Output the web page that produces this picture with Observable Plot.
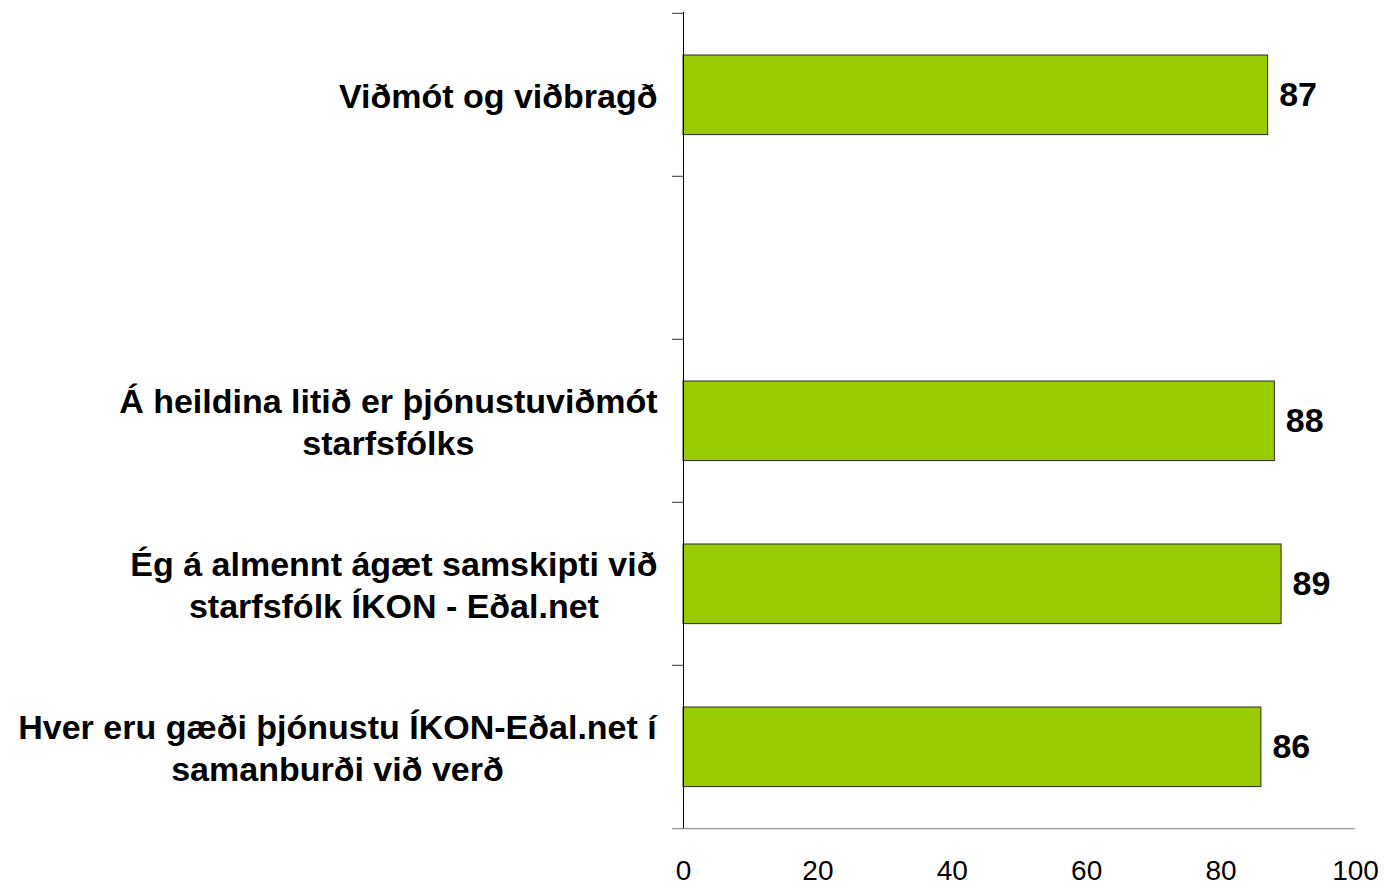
<!DOCTYPE html>
<html><head><meta charset="utf-8">
<script src="https://cdn.jsdelivr.net/npm/d3@7"></script>
<script src="https://cdn.jsdelivr.net/npm/@observablehq/plot@0.6"></script>
<style>body{margin:0;background:#fff} svg{display:block}</style>
</head><body>
<script>
const categories = [
  "Viðmót og viðbragð",
  " ",
  "Á heildina litið er þjónustuviðmót\nstarfsfólks",
  "Ég á almennt ágæt samskipti við\nstarfsfólk ÍKON - Eðal.net",
  "Hver eru gæði þjónustu ÍKON-Eðal.net í\nsamanburði við verð"
];
const values = [87, null, 88, 89, 86];
const xTicks = [0, 20, 40, 60, 80, 100];

const W = 1384, H = 886, mL = 683, mR = 29, mT = 12, mB = 57;
const bandH = (H - mT - mB) / categories.length;
const pxPerUnit = (W - mL - mR) / 100;
const tickLen = 11 / pxPerUnit;

const rows = categories.map((c, i) => ({cat: c, value: values[i]}));
const bars = rows.filter(d => d.value != null);

const chart = Plot.plot({
  width: W, height: H,
  marginLeft: mL, marginRight: mR, marginTop: mT, marginBottom: mB,
  style: {fontFamily: "'Liberation Sans', Arial, sans-serif", background: "#fff", color: "#000"},
  x: {domain: [0, 100], axis: null, label: null},
  y: {domain: categories, padding: 0, axis: null},
  marks: [
    Plot.barX(bars, {y: "cat", x: "value", fill: "#99cc00", stroke: "#2b2b2b", strokeWidth: 1, insetTop: 42, insetBottom: 41.4}),
    Plot.ruleX([0], {stroke: "#000", strokeWidth: 1}),
    Plot.ruleY(categories, {y: d => d, dy: -bandH / 2, x1: -tickLen, x2: 0, stroke: "#333"}),
    Plot.ruleY([categories[categories.length - 1]], {y: d => d, dy: bandH / 2, x1: -tickLen, x2: 100, stroke: "#808080"}),
    Plot.text(bars, {y: "cat", x: "value", text: d => String(d.value), dx: 11, textAnchor: "start", fontWeight: "bold", fontSize: 34, fill: "#000"}),
    Plot.text(rows, {y: "cat", x: 0, text: "cat", dx: -26, textAnchor: "end", fontWeight: "bold", fontSize: 34, lineHeight: 42 / 34, fill: "#000"}),
    Plot.axisX({ticks: xTicks, tickSize: 0, tickPadding: 31, fontSize: 28, label: null, tickFormat: d => String(d)})
  ]
});
document.body.append(chart);

// center the lines of each label within its right-aligned block
chart.querySelectorAll('g[aria-label="text"][text-anchor="end"] > text').forEach(t => {
  const w = t.getBBox().width;
  t.setAttribute("text-anchor", "middle");
  const tr = t.getAttribute("transform") || "";
  t.setAttribute("transform", tr + ` translate(${-w / 2},0)`);
});
</script>
</body></html>
